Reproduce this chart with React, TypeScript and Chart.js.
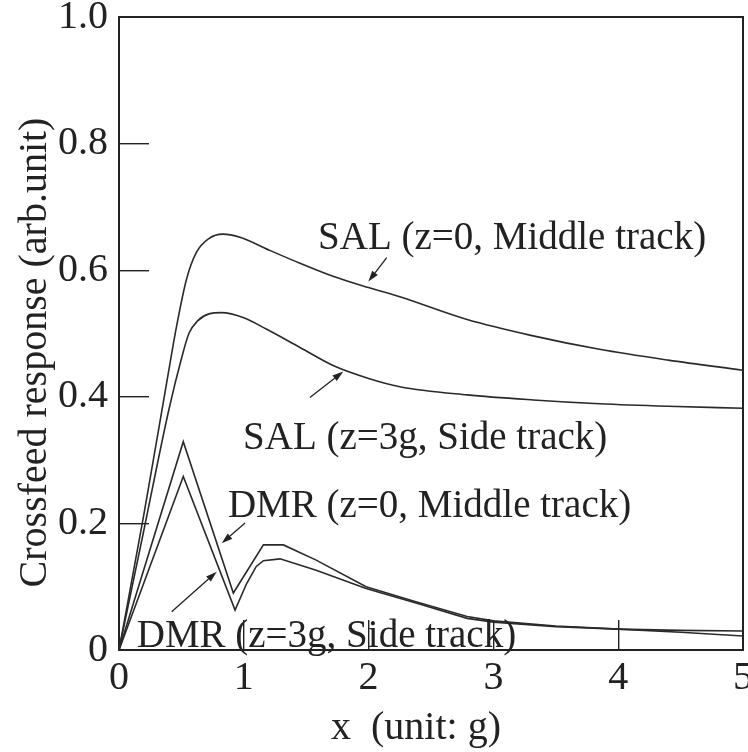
import React, { useEffect, useRef } from 'react';
import { Chart, registerables } from 'chart.js';

Chart.register(...registerables);

// SAL, z=0, middle track
const salMidX = [0, 0.2, 0.38, 0.46, 0.54, 0.62, 0.72, 0.83, 0.97, 1.2, 1.45, 1.72, 1.99, 2.25, 2.79, 3.3, 3.85, 4.4, 5.0];
const salMidY = [0, 0.215, 0.42, 0.51, 0.585, 0.628, 0.65, 0.657, 0.652, 0.632, 0.611, 0.59, 0.573, 0.558, 0.522, 0.497, 0.475, 0.458, 0.442];

// SAL, z=3g, side track
const salSideX = [0, 0.2, 0.4, 0.5, 0.56, 0.63, 0.72, 0.82, 1.0, 1.18, 1.45, 1.72, 2.0, 2.25, 2.79, 3.32, 3.85, 4.4, 5.0];
const salSideY = [0, 0.19, 0.38, 0.46, 0.5, 0.52, 0.531, 0.533, 0.525, 0.507, 0.478, 0.449, 0.429, 0.416, 0.403, 0.395, 0.389, 0.385, 0.382];

// DMR, z=0, middle track
const dmrMidX = [0, 0.515, 0.916, 1.157, 1.317, 1.58, 1.98, 2.385, 2.79, 3.0, 3.5, 4.0, 4.5, 5.0];
const dmrMidY = [0, 0.329, 0.09, 0.166, 0.166, 0.142, 0.1, 0.076, 0.053, 0.046, 0.038, 0.033, 0.028, 0.022];

// DMR, z=3g, side track
const dmrSideX = [0, 0.515, 0.93, 1.023, 1.1, 1.157, 1.29, 1.58, 1.98, 2.4, 2.79, 3.0, 3.5, 4.0, 4.5, 5.0];
const dmrSideY = [0, 0.274, 0.063, 0.105, 0.132, 0.141, 0.144, 0.126, 0.097, 0.073, 0.05, 0.044, 0.037, 0.033, 0.031, 0.03];

// Annotations (data coordinates)
const labelTexts = ['SAL (z=0, Middle track)', 'SAL (z=3g, Side track)', 'DMR (z=0, Middle track)', 'DMR (z=3g, Side track)'];
const labelX = [1.595, 0.994, 0.873, 0.142];
const labelY = [0.633, 0.318, 0.21, 0.005];
const arrowX0 = [2.145, 1.53, 1.01, 0.422];
const arrowY0 = [0.62, 0.399, 0.2006, 0.0605];
const arrowX1 = [1.998, 1.797, 0.823, 0.783];
const arrowY1 = [0.582, 0.44, 0.1686, 0.1237];

const xTitle = 'x  (unit: g)';
const yTitle = 'Crossfeed response (arb.unit)';

const INK = '#222';
const SERIF = '"Liberation Serif", "Times New Roman", serif';

const toPoints = (xs: number[], ys: number[]) => xs.map((x, i) => ({ x, y: ys[i] }));

const annotationPlugin = {
  id: 'annotations',
  afterDatasetsDraw(chart: any) {
    const { ctx, scales, chartArea } = chart;
    const sx = scales.x;
    const sy = scales.y;
    ctx.save();
    ctx.fillStyle = INK;
    ctx.strokeStyle = INK;
    ctx.font = `39px ${SERIF}`;
    ctx.textAlign = 'left';
    ctx.textBaseline = 'alphabetic';
    labelTexts.forEach((t, i) => {
      ctx.fillText(t, sx.getPixelForValue(labelX[i]), sy.getPixelForValue(labelY[i]));
    });
    ctx.lineWidth = 1.3;
    for (let i = 0; i < arrowX0.length; i++) {
      const x0 = sx.getPixelForValue(arrowX0[i]);
      const y0 = sy.getPixelForValue(arrowY0[i]);
      const x1 = sx.getPixelForValue(arrowX1[i]);
      const y1 = sy.getPixelForValue(arrowY1[i]);
      const ang = Math.atan2(y1 - y0, x1 - x0);
      const hl = 11;
      const hw = 3.5;
      const bx = x1 - hl * Math.cos(ang);
      const by = y1 - hl * Math.sin(ang);
      ctx.beginPath();
      ctx.moveTo(x0, y0);
      ctx.lineTo(bx, by);
      ctx.stroke();
      ctx.beginPath();
      ctx.moveTo(x1, y1);
      ctx.lineTo(bx + hw * Math.sin(ang), by - hw * Math.cos(ang));
      ctx.lineTo(bx - hw * Math.sin(ang), by + hw * Math.cos(ang));
      ctx.closePath();
      ctx.fill();
    }
    // axis titles
    ctx.font = `40px ${SERIF}`;
    ctx.textAlign = 'center';
    ctx.textBaseline = 'middle';
    ctx.fillText(xTitle, chartArea.left + (chartArea.right - chartArea.left) * 0.476, chartArea.bottom + 78);
    ctx.save();
    ctx.translate(35, chartArea.top + (chartArea.bottom - chartArea.top) * 0.53);
    ctx.rotate(-Math.PI / 2);
    ctx.fillText(yTitle, 0, 0);
    ctx.restore();
    ctx.restore();
  },
};

export default function App() {
  const canvasRef = useRef<HTMLCanvasElement | null>(null);

  useEffect(() => {
    if (!canvasRef.current) return;
    const lineDs = (label: string, xs: number[], ys: number[], smooth: boolean) => ({
      label,
      data: toPoints(xs, ys),
      borderColor: '#2a2a2a',
      borderWidth: 1.6,
      pointRadius: 0,
      fill: false,
      tension: smooth ? 0.4 : 0,
      cubicInterpolationMode: smooth ? ('monotone' as const) : ('default' as const),
    });
    const chart = new Chart(canvasRef.current, {
      type: 'line',
      data: {
        datasets: [
          lineDs('SAL (z=0, Middle track)', salMidX, salMidY, true),
          lineDs('SAL (z=3g, Side track)', salSideX, salSideY, true),
          lineDs('DMR (z=0, Middle track)', dmrMidX, dmrMidY, false),
          lineDs('DMR (z=3g, Side track)', dmrSideX, dmrSideY, false),
        ],
      },
      options: {
        animation: false,
        responsive: false,
        maintainAspectRatio: false,
        devicePixelRatio: 1,
        layout: { padding: { left: 0, top: 17, right: 17, bottom: 0 } },
        plugins: {
          legend: { display: false },
          tooltip: { enabled: false },
        },
        scales: {
          x: {
            type: 'linear',
            position: 'bottom',
            min: 0,
            max: 5,
            ticks: {
              stepSize: 1,
              padding: 34,
              color: INK,
              font: { family: SERIF, size: 40 },
              callback: (v: any) => String(v),
            },
            grid: { drawOnChartArea: false, drawTicks: true, tickLength: -30, color: INK, lineWidth: 1.4 },
            border: { display: true, color: INK, width: 2 },
            title: { display: false, text: xTitle },
            afterFit: (s: any) => {
              s.height = 102;
              s.paddingLeft = 0;
              s.paddingRight = 0;
            },
          },
          y: {
            type: 'linear',
            position: 'left',
            min: 0,
            max: 1,
            ticks: {
              stepSize: 0.2,
              padding: 41,
              color: INK,
              font: { family: SERIF, size: 40 },
              callback: (v: any) => (Math.abs(v) < 1e-9 ? '0' : Number(v).toFixed(1)),
            },
            grid: { drawOnChartArea: false, drawTicks: true, tickLength: -30, color: INK, lineWidth: 1.4 },
            border: { display: true, color: INK, width: 2 },
            title: { display: false, text: yTitle },
            afterFit: (s: any) => {
              s.width = 119;
              s.paddingTop = 0;
              s.paddingBottom = 0;
            },
          },
          x2: {
            type: 'linear',
            position: 'top',
            min: 0,
            max: 5,
            grid: { display: false },
            ticks: { display: false },
            border: { display: true, color: INK, width: 2 },
            afterFit: (s: any) => {
              s.height = 0;
              s.paddingLeft = 0;
              s.paddingRight = 0;
            },
          },
          y2: {
            type: 'linear',
            position: 'right',
            min: 0,
            max: 1,
            grid: { display: false },
            ticks: { display: false },
            border: { display: true, color: INK, width: 2 },
            afterFit: (s: any) => {
              s.width = 0;
              s.paddingTop = 0;
              s.paddingBottom = 0;
            },
          },
        },
      },
      plugins: [annotationPlugin],
    });
    return () => chart.destroy();
  }, []);

  return (
    <div style={{ position: 'fixed', left: 0, top: 0, width: 748, height: 752, overflow: 'hidden', background: '#fff' }}>
      <canvas ref={canvasRef} width={760} height={752} style={{ width: 760, height: 752, display: 'block' }} />
    </div>
  );
}
